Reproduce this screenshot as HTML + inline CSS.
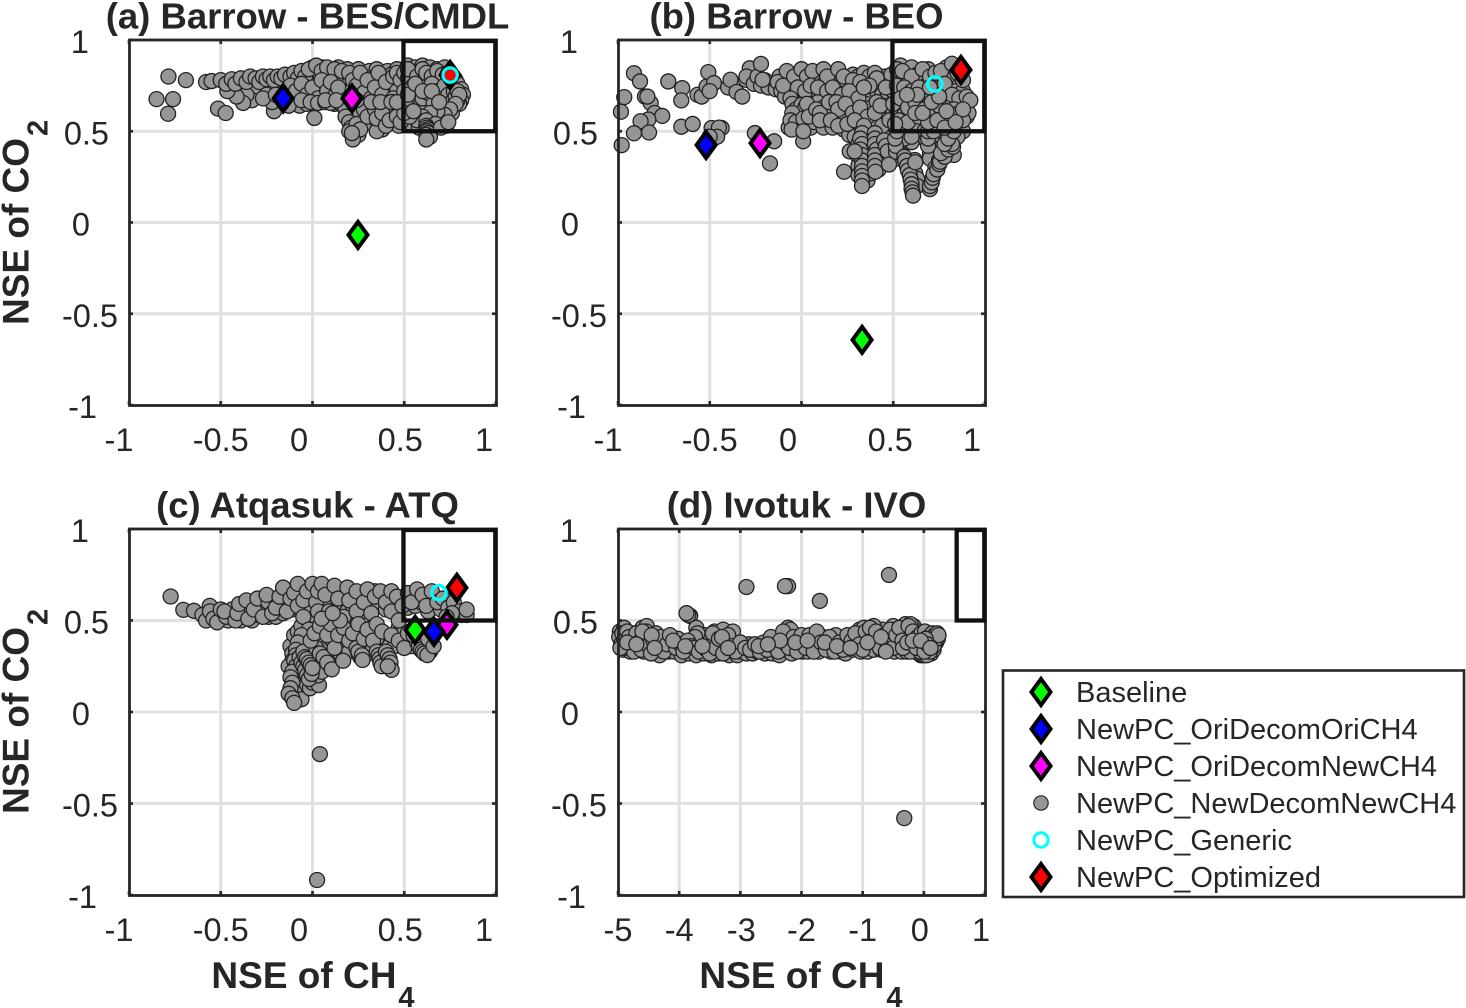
<!DOCTYPE html>
<html>
<head>
<meta charset="utf-8">
<title>NSE of CH4 vs NSE of CO2</title>
<style>
html,body{margin:0;padding:0;background:#fff;width:1466px;height:1008px;overflow:hidden}
svg{display:block}
text{font-family:"Liberation Sans",Arial,sans-serif;fill:#262626}
</style>
</head>
<body>
<svg id="chart" width="1466" height="1008" viewBox="0 0 1466 1008" xmlns="http://www.w3.org/2000/svg"></svg>
<script>
/* ---------- data ---------- */
const ticksUnit = [-1, -0.5, 0, 0.5, 1];
const ticksIvotukX = [-5, -4, -3, -2, -1, 0, 1];
const titles = ["(a) Barrow - BES/CMDL", "(b) Barrow - BEO", "(c) Atqasuk - ATQ", "(d) Ivotuk - IVO"];
const legendLabels = ["Baseline", "NewPC_OriDecomOriCH4", "NewPC_OriDecomNewCH4", "NewPC_NewDecomNewCH4", "NewPC_Generic", "NewPC_Optimized"];

const baselineSeries = [[0.248, -0.068], [0.33, -0.643], [0.559, 0.449], null];
const oriOriSeries = [[-0.16, 0.68], [-0.52, 0.425], [0.662, 0.438], null];
const oriNewSeries = [[0.215, 0.68], [-0.226, 0.435], [0.733, 0.477], null];
const genericSeries = [[0.75, 0.808], [0.727, 0.759], [0.689, 0.652], null];
const optimizedSeries = [[0.75, 0.808], [0.869, 0.836], [0.787, 0.679], null];
const targetBoxLowerX = [0.5, 0.5, 0.5, 0.55];

const cloudAUnder = [
[-0.44,0.75],[-0.4,0.745],[-0.37,0.76],[-0.33,0.75],[-0.3,0.76],[-0.27,0.755],[-0.24,0.76],[-0.21,0.755],[-0.18,0.76],[-0.16,0.74],[-0.14,0.77],[-0.12,0.72],[-0.26,0.72],[-0.23,0.72],[-0.3,0.73],[-0.17,0.71],[-0.15,0.68],[-0.11,0.68],[-0.18,0.665],[-0.33,0.67],[-0.36,0.7],
[0,0.85],[0.05,0.85],[0.09,0.84],[0.14,0.85],[0.19,0.84],[0.25,0.84],[0.31,0.83],[0.35,0.84],[0.41,0.83],[0.46,0.84],
[-0.07,0.8],[-0.03,0.81],[0.01,0.8],[0.06,0.81],[0.11,0.8],[0.15,0.81],[0.18,0.8],[0.22,0.81],[0.27,0.8],[0.31,0.79],[0.35,0.8],[0.39,0.79],[0.43,0.81],[0.47,0.8],
[-0.08,0.76],[-0.05,0.75],[-0.01,0.76],[0.03,0.76],[0.07,0.75],[0.11,0.74],[0.16,0.76],[0.2,0.76],[0.24,0.77],[0.27,0.75],[0.31,0.76],[0.35,0.77],[0.38,0.75],[0.42,0.76],[0.45,0.75],[0.49,0.76],
[-0.09,0.7],[-0.05,0.71],[-0.02,0.72],[0.02,0.71],[0.06,0.7],[0.09,0.7],[0.13,0.71],[0.17,0.7],[0.21,0.72],[0.25,0.71],[0.29,0.73],[0.33,0.71],[0.37,0.72],[0.41,0.71],[0.44,0.72],[0.48,0.71],
[-0.07,0.64],[-0.03,0.65],[0.01,0.68],[0.05,0.66],[0.09,0.67],[0.12,0.65],[0.16,0.68],[0.19,0.64],[0.23,0.66],[0.26,0.64],[0.3,0.66],[0.33,0.63],[0.36,0.67],[0.39,0.64],[0.42,0.62],[0.46,0.65],[0.49,0.63],
[0.21,0.6],[0.24,0.58],[0.27,0.57],[0.3,0.55],[0.32,0.58],[0.36,0.54],[0.38,0.57],[0.42,0.59],[0.44,0.55],[0.47,0.53],[0.5,0.56],[0.23,0.5],[0.25,0.48],[0.22,0.54],[0.38,0.51],[0.35,0.5],
[0.52,0.86],[0.56,0.85],[0.6,0.86],[0.64,0.85],[0.68,0.84],[0.72,0.85],[0.54,0.8],[0.59,0.81],[0.63,0.79],[0.67,0.78],[0.7,0.79],[0.74,0.77],[0.78,0.78],[0.51,0.77],[0.54,0.73],[0.58,0.76],[0.62,0.75],[0.66,0.74],[0.7,0.73],[0.73,0.73],[0.76,0.74],[0.79,0.76],[0.81,0.73],[0.82,0.7],[0.81,0.67],[0.8,0.65],[0.52,0.68],[0.56,0.66],[0.59,0.66],[0.63,0.67],[0.67,0.68],[0.7,0.64],[0.73,0.66],[0.76,0.68],[0.79,0.67],[0.52,0.62],[0.55,0.63],[0.59,0.6],[0.63,0.63],[0.66,0.61],[0.7,0.61],[0.73,0.62],[0.76,0.6],[0.54,0.54],[0.58,0.52],[0.66,0.57],[0.7,0.56],[0.73,0.53]
];
const cloudA = [
[-0.785,0.8],[-0.69,0.78],[-0.58,0.77],[-0.85,0.676],[-0.76,0.676],[-0.787,0.596],[-0.515,0.624],[-0.473,0.6],[-0.378,0.655],[-0.414,0.69],[-0.464,0.72],[-0.21,0.61],[0.01,0.573],
[-0.55,0.775],[-0.5,0.78],[-0.47,0.76],[-0.44,0.785],[-0.42,0.76],[-0.39,0.79],[-0.36,0.77],[-0.34,0.8],[-0.31,0.79],[-0.29,0.77],[-0.27,0.8],[-0.25,0.785],[-0.23,0.8],[-0.21,0.78],[-0.19,0.8],[-0.17,0.79],[-0.15,0.81],[-0.25,0.7],[-0.22,0.66],[-0.27,0.68],[-0.2,0.7],[-0.13,0.64],
[-0.12,0.8],[-0.1,0.82],[-0.08,0.79],[-0.06,0.83],[-0.04,0.8],[-0.02,0.84],[0.02,0.86],[0.05,0.83],[0.08,0.85],[0.12,0.84],[0.16,0.83],[0.2,0.82],[-0.12,0.75],[-0.09,0.72],[-0.06,0.76],[-0.03,0.7],[0,0.74],[0.03,0.68],[0.05,0.78],[0.08,0.72],[0.1,0.77],[0.12,0.69],[0.14,0.74],[-0.06,0.67],[-0.01,0.66],[0.03,0.655],[0.07,0.66],[0.1,0.655],[0.15,0.655],
[0.22,0.78],[0.24,0.75],[0.26,0.82],[0.28,0.71],[0.3,0.78],[0.32,0.68],[0.34,0.74],[0.36,0.82],[0.38,0.7],[0.4,0.77],[0.42,0.66],[0.44,0.8],[0.46,0.72],[0.46,0.82],[0.48,0.78],[0.44,0.68],[0.24,0.64],[0.26,0.6],[0.28,0.62],[0.18,0.62],[0.18,0.58],[0.2,0.55],[0.21,0.52],[0.2,0.5],[0.24,0.54],[0.26,0.51],[0.3,0.58],[0.34,0.62],[0.35,0.57],[0.38,0.6],[0.4,0.53],[0.42,0.56],[0.46,0.58],[0.48,0.55],[0.22,0.455],[0.215,0.49],
[0.5,0.82],[0.52,0.79],[0.52,0.84],[0.55,0.75],[0.57,0.8],[0.6,0.84],[0.62,0.82],[0.65,0.8],[0.68,0.83],[0.71,0.81],[0.74,0.82],[0.5,0.72],[0.53,0.66],[0.56,0.7],[0.58,0.63],[0.6,0.74],[0.6,0.68],[0.63,0.71],[0.65,0.76],[0.66,0.65],[0.68,0.72],[0.7,0.68],[0.72,0.75],[0.74,0.7],[0.76,0.66],[0.77,0.72],[0.78,0.69],[0.79,0.72],[0.8,0.7],[0.78,0.65],[0.75,0.62],[0.72,0.59],[0.68,0.61],[0.64,0.6],[0.6,0.58],[0.57,0.56],[0.53,0.58],[0.5,0.6],[0.55,0.61],[0.62,0.56],[0.67,0.54],[0.62,0.53],[0.625,0.52],[0.63,0.51],[0.625,0.5],[0.63,0.49],[0.62,0.48],[0.64,0.47],[0.62,0.455],[0.7,0.52],[0.74,0.55],
[0.07,0.67],[0.13,0.67],[0.24,0.67],[0.32,0.66],[0.37,0.66],[0.43,0.66],[0.46,0.66],[0.52,0.7],[0.56,0.76],[0.6,0.72],[0.65,0.72],[0.69,0.66]
];

const cloudBUnder = [
[-0.12,0.8],[-0.09,0.76],[-0.07,0.8],[-0.05,0.76],[-0.02,0.79],[0.01,0.76],[0.04,0.79],[0.07,0.77],[0.1,0.8],[0.13,0.77],[0.16,0.8],[0.19,0.78],[0.22,0.8],[0.25,0.76],[0.28,0.81],[0.31,0.8],[0.34,0.82],[0.37,0.8],[0.4,0.77],[0.43,0.8],[0.46,0.8],[0.49,0.81],
[-0.1,0.71],[-0.07,0.72],[-0.04,0.7],[-0.01,0.71],[0.02,0.68],[0.05,0.7],[0.08,0.71],[0.11,0.69],[0.14,0.68],[0.17,0.7],[0.2,0.71],[0.23,0.68],[0.26,0.7],[0.29,0.72],[0.32,0.7],[0.35,0.71],[0.38,0.69],[0.41,0.72],[0.44,0.7],[0.47,0.71],[0.5,0.72],
[-0.04,0.66],[-0.01,0.62],[0.03,0.61],[0.06,0.65],[0.09,0.66],[0.12,0.63],[0.15,0.62],[0.18,0.6],[0.21,0.64],[0.24,0.6],[0.27,0.65],[0.3,0.64],[0.33,0.6],[0.35,0.65],[0.38,0.63],[0.41,0.66],[0.44,0.61],[0.47,0.64],[0.5,0.6],
[-0.07,0.52],[-0.04,0.53],[-0.01,0.52],[0.02,0.55],[0.05,0.52],[0.07,0.55],[0.12,0.52],[0.14,0.58],[0.17,0.52],[0.19,0.56],[0.22,0.57],[0.23,0.51],[0.27,0.53],[0.3,0.52],[0.32,0.56],[0.36,0.51],[0.38,0.55],[0.41,0.53],[0.45,0.56],[0.47,0.51],[0.5,0.53],[0.26,0.48],[0.29,0.47],[0.35,0.47],[0.38,0.48],[0.42,0.49],[0.46,0.48],[0.49,0.47],[0.53,0.48],
[0.31,0.43],[0.34,0.43],[0.35,0.39],[0.35,0.35],[0.35,0.31],[0.35,0.27],[0.36,0.23],[0.31,0.36],[0.31,0.31],[0.31,0.26],[0.38,0.44],[0.38,0.4],[0.38,0.35],[0.38,0.3],[0.38,0.27],[0.42,0.42],[0.42,0.37],[0.42,0.33],[0.42,0.29],[0.44,0.38],[0.47,0.46],[0.48,0.36],[0.49,0.42],[0.5,0.38],[0.52,0.35],[0.54,0.41],[0.55,0.37],[0.57,0.34],[0.575,0.326],[0.59,0.3],[0.6,0.28],[0.618,0.342],[0.62,0.27],[0.63,0.24],[0.63,0.2],[0.47,0.326],[0.6,0.44],[0.56,0.46],
[0.54,0.86],[0.57,0.8],[0.6,0.85],[0.63,0.81],[0.66,0.79],[0.69,0.84],[0.72,0.79],[0.75,0.78],[0.79,0.85],[0.82,0.78],[0.85,0.74],[0.54,0.71],[0.57,0.78],[0.6,0.76],[0.63,0.77],[0.67,0.72],[0.69,0.76],[0.72,0.7],[0.77,0.72],[0.8,0.73],[0.84,0.72],[0.88,0.72],[0.9,0.64],[0.9,0.58],[0.52,0.61],[0.56,0.59],[0.6,0.62],[0.6,0.67],[0.65,0.65],[0.68,0.65],[0.73,0.62],[0.77,0.6],[0.81,0.66],[0.85,0.64],[0.55,0.52],[0.6,0.52],[0.64,0.53],[0.67,0.5],[0.72,0.53],[0.76,0.5],[0.8,0.55],[0.85,0.51],[0.88,0.5],[0.91,0.6],[0.72,0.46],[0.75,0.45],[0.79,0.47],[0.83,0.46],[0.85,0.47],[0.68,0.45],[0.7,0.42],[0.7,0.38],[0.7,0.35],[0.8,0.43],[0.78,0.4],[0.77,0.37],[0.75,0.34],[0.73,0.3],[0.81,0.39],[0.83,0.37]
];
const cloudB = [
[-0.913,0.818],[-0.88,0.773],[-0.966,0.687],[-0.984,0.607],[-0.853,0.69],[-0.822,0.655],[-0.84,0.69],[-0.8,0.6],[-0.759,0.584],[-0.835,0.564],[-0.877,0.555],[-0.831,0.493],[-0.913,0.489],[-0.98,0.424],[-0.726,0.773],[-0.65,0.736],[-0.655,0.669],[-0.655,0.525],[-0.593,0.54],[-0.508,0.824],[-0.567,0.7],[-0.544,0.69],[-0.517,0.745],[-0.477,0.764],[-0.5,0.72],[-0.49,0.518],[-0.435,0.518],[-0.45,0.52],[-0.46,0.47],[-0.5,0.47],[-0.254,0.49],[-0.149,0.445],[-0.172,0.324],
[-0.4,0.74],[-0.387,0.782],[-0.354,0.715],[-0.323,0.69],[-0.303,0.782],[-0.282,0.845],[-0.3,0.8],[-0.26,0.76],[-0.24,0.8],[-0.22,0.75],[-0.2,0.78],[-0.18,0.74],[-0.14,0.73],[-0.13,0.77],[-0.11,0.72],[-0.09,0.69],[-0.1,0.75],[-0.221,0.869],[-0.212,0.782],
[-0.08,0.83],[-0.04,0.8],[0,0.84],[0.03,0.8],[0.06,0.83],[0.12,0.84],[0.14,0.8],[0.2,0.84],[0.23,0.8],[0.28,0.78],[0.32,0.77],[0.4,0.82],[0.41,0.79],[0.37,0.75],[-0.02,0.74],[0.02,0.72],[0.05,0.75],[0.09,0.74],[0.14,0.72],[0.17,0.74],[0.22,0.7],[0.26,0.72],[0.31,0.68],[0.34,0.74],[0.46,0.74],[-0.06,0.68],[-0.05,0.65],[-0.03,0.62],[0,0.645],[0.02,0.63],[0.03,0.65],[-0.05,0.6],[-0.06,0.56],[-0.03,0.55],[0.01,0.57],[0.04,0.58],[0.08,0.62],[0.1,0.6],[0.15,0.66],[0.19,0.66],[0.2,0.62],[0.24,0.65],[0.28,0.6],[0.32,0.63],[0.36,0.58],[0.4,0.6],[0.43,0.64],[-0.054,0.509],[0.009,0.445],[0.01,0.5],[0.1,0.56],[0.16,0.56],[0.2,0.53],[0.25,0.54],[0.29,0.56],[0.34,0.53],[0.44,0.53],[0.48,0.56],
[0.33,0.49],[0.32,0.46],[0.33,0.43],[0.32,0.4],[0.33,0.37],[0.33,0.34],[0.33,0.31],[0.33,0.28],[0.33,0.255],[0.33,0.23],[0.33,0.2],[0.263,0.39],[0.29,0.39],[0.232,0.278],[0.4,0.49],[0.4,0.46],[0.4,0.43],[0.41,0.4],[0.4,0.37],[0.4,0.34],[0.4,0.31],[0.403,0.278],[0.45,0.45],[0.46,0.42],[0.47,0.39],[0.477,0.318],[0.515,0.388],[0.514,0.42],[0.51,0.46],[0.52,0.5],
[0.56,0.36],[0.565,0.34],[0.575,0.31],[0.58,0.285],[0.59,0.26],[0.595,0.235],[0.6,0.21],[0.6,0.185],[0.605,0.165],[0.608,0.147],[0.62,0.33],[0.7,0.183],[0.7,0.2],[0.71,0.22],[0.715,0.245],[0.72,0.265],[0.74,0.29],[0.75,0.32],[0.755,0.333],[0.78,0.36],[0.76,0.38],[0.8,0.4],[0.826,0.415],[0.82,0.43],[0.78,0.43],[0.69,0.42],[0.69,0.46],[0.69,0.5],[0.8,0.46],[0.83,0.5],[0.72,0.5],[0.6,0.47],
[0.52,0.84],[0.55,0.83],[0.6,0.8],[0.66,0.84],[0.7,0.8],[0.73,0.82],[0.76,0.83],[0.82,0.87],[0.85,0.82],[0.88,0.78],[0.52,0.75],[0.56,0.74],[0.6,0.72],[0.64,0.74],[0.66,0.68],[0.7,0.7],[0.74,0.72],[0.78,0.76],[0.82,0.7],[0.86,0.68],[0.9,0.69],[0.92,0.67],[0.5,0.65],[0.54,0.68],[0.58,0.63],[0.62,0.66],[0.67,0.62],[0.71,0.6],[0.75,0.64],[0.79,0.58],[0.83,0.62],[0.86,0.6],[0.88,0.56],[0.88,0.62],[0.53,0.56],[0.58,0.55],[0.64,0.58],[0.69,0.55],[0.74,0.56],[0.78,0.52],[0.84,0.55],[0.51,0.54],[0.62,0.6],[0.66,0.6],[0.71,0.66],[0.79,0.61],[0.75,0.69],[0.7,0.74],[0.63,0.7],[0.575,0.7]
];

const cloudCUnder = [
[-0.57,0.54],[-0.55,0.52],[-0.52,0.55],[-0.49,0.52],[-0.46,0.5],[-0.44,0.56],[-0.42,0.53],[-0.39,0.5],[-0.38,0.56],[-0.35,0.57],[-0.33,0.5],[-0.31,0.53],[-0.29,0.58],[-0.26,0.56],[-0.24,0.52],[-0.22,0.62],[-0.2,0.52],[-0.18,0.58],[-0.16,0.54],[-0.14,0.61],[-0.13,0.66],[-0.11,0.56],[-0.1,0.6],[-0.06,0.67],[-0.06,0.55],[-0.03,0.58],[-0.01,0.63],[0.01,0.67],[0.02,0.52],
[0.06,0.67],[0.05,0.58],[0.09,0.65],[0.1,0.6],[0.13,0.66],[0.12,0.56],[0.16,0.64],[0.16,0.58],[0.19,0.55],[0.22,0.65],[0.22,0.58],[0.26,0.63],[0.27,0.55],[0.3,0.63],[0.31,0.58],[0.34,0.66],[0.36,0.58],[0.38,0.63],[0.4,0.56],[0.42,0.62],[0.45,0.6],[0.47,0.55],[0.5,0.62],[0.52,0.57],[0.55,0.63],[0.56,0.58],[0.59,0.6],[0.62,0.62],[0.63,0.55],[0.66,0.6],[0.7,0.56],[0.78,0.56],[0.81,0.53],
[-0.12,0.36],[-0.11,0.32],[-0.11,0.28],[-0.13,0.25],[-0.1,0.42],[-0.08,0.44],[-0.06,0.47],[-0.04,0.42],[-0.04,0.38],[-0.03,0.35],[-0.01,0.44],[0,0.38],[0.02,0.4],[0.03,0.46],[0.06,0.44],[0.06,0.38],[0.08,0.35],[0.1,0.4],[0.11,0.44],[0.13,0.38],[0.14,0.33],[0.16,0.38],[0.19,0.43],[0.2,0.33],[0.21,0.47],[0.23,0.4],[0.26,0.44],[0.27,0.36],[0.3,0.4],[0.3,0.32],[0.32,0.46],[0.33,0.35],[0.36,0.41],[0.37,0.36],[0.4,0.4],[0.42,0.36],[0.45,0.36],[0.47,0.46],[0.48,0.4],[0.5,0.44],[0.52,0.38],[0.54,0.36],
[-0.08,0.22],[-0.07,0.18],[-0.06,0.15],[-0.05,0.12],[-0.08,0.1],[-0.06,0.07],[-0.03,0.15],[-0.014,0.13],[0,0.16],[0.02,0.18],[0.035,0.147],[0.03,0.2],[0.05,0.22],[-0.02,0.23],[-0.07,0.28],
[-0.055,0.3],[-0.05,0.29],[-0.045,0.28],[-0.04,0.27],[-0.035,0.26],[-0.03,0.25],[-0.025,0.24],[-0.02,0.23],[-0.015,0.22],[0.09,0.26],[0.08,0.28],[0.07,0.3],[0.25,0.32],[0.26,0.3],[0.27,0.29],[0.35,0.404],[0.38,0.28],[0.39,0.26],[0.42,0.26],[0.6,0.34],[0.6,0.36],[0.59,0.38],[0.58,0.4],[0.64,0.33],[0.65,0.35]
];
const cloudC = [
[-0.773,0.631],[-0.704,0.558],[-0.646,0.553],[-0.6,0.53],[-0.58,0.5],[-0.56,0.58],[-0.559,0.55],[-0.54,0.51],[-0.52,0.49],[-0.5,0.56],[-0.47,0.52],[-0.48,0.55],[-0.42,0.5],[-0.41,0.54],[-0.4,0.59],[-0.36,0.61],[-0.35,0.51],[-0.32,0.56],[-0.3,0.62],[-0.27,0.52],[-0.24,0.6],[-0.25,0.64],[-0.22,0.54],[-0.2,0.57],[-0.18,0.63],[-0.16,0.68],[-0.14,0.55],[-0.12,0.62],[-0.1,0.65],[-0.08,0.7],[-0.08,0.58],[-0.05,0.61],[-0.03,0.66],[0,0.7],[-0.05,0.52],[0.02,0.6],[0.03,0.55],[0.03,0.66],
[0.05,0.7],[0.07,0.64],[0.09,0.55],[0.12,0.69],[0.14,0.62],[0.17,0.52],[0.19,0.68],[0.2,0.61],[0.24,0.55],[0.24,0.66],[0.28,0.6],[0.3,0.67],[0.32,0.54],[0.34,0.63],[0.37,0.66],[0.4,0.6],[0.43,0.66],[0.43,0.55],[0.46,0.63],[0.49,0.58],[0.52,0.65],[0.54,0.6],[0.57,0.67],[0.6,0.64],[0.62,0.58],[0.65,0.66],[0.68,0.6],[0.71,0.62],[0.74,0.57],[0.77,0.6],[0.8,0.55],[0.84,0.53],[0.84,0.56],[0.76,0.54],[0.73,0.52],
[-0.02,0.45],[-0.06,0.42],[-0.08,0.38],[-0.09,0.34],[-0.09,0.31],[-0.1,0.28],[-0.09,0.25],[-0.11,0.22],[-0.12,0.19],[-0.11,0.16],[-0.12,0.13],[-0.13,0.1],[-0.11,0.075],[-0.1,0.05],
[-0.07,0.3],[-0.06,0.27],[-0.05,0.25],[-0.04,0.23],[-0.03,0.2],[-0.02,0.18],[-0.005,0.208],[-0.05,0.33],[-0.04,0.3],[-0.03,0.29],[-0.02,0.27],[-0.01,0.255],[0,0.24],[0.02,0.35],[0.04,0.32],[0.06,0.3],[0.08,0.27],[0.105,0.233],[0.167,0.28],[0.12,0.35],[-0.01,0.39],[0.01,0.43],[0.04,0.47],[0.08,0.42],[0.1,0.48],[0.14,0.42],[0.17,0.46],[0.2,0.39],[0.22,0.43],[0.24,0.35],[0.25,0.33],[0.27,0.31],[0.273,0.284],[0.25,0.48],[0.28,0.4],[0.3,0.45],[0.33,0.39],[0.35,0.48],[0.35,0.33],[0.36,0.31],[0.365,0.29],[0.37,0.27],[0.377,0.25],[0.4,0.33],[0.41,0.31],[0.42,0.29],[0.425,0.27],[0.431,0.23],[0.41,0.25],[0.38,0.44],[0.43,0.42],[0.47,0.39],[0.5,0.35],[0.52,0.43],[0.47,0.5],[0.15,0.5],[0.05,0.51],[0.11,0.54],
[0.57,0.38],[0.58,0.36],[0.59,0.34],[0.6,0.33],[0.61,0.32],[0.626,0.311],[0.55,0.42],[0.63,0.4],[0.66,0.36],
[0.04,-0.23],[0.025,-0.918]
];

const cloudDUnder = [
[-4.97,0.44],[-4.92,0.34],[-4.87,0.41],[-4.8,0.33],[-4.76,0.43],[-4.68,0.35],[-4.64,0.41],[-4.58,0.33],[-4.52,0.38],[-4.48,0.42],[-4.43,0.33],[-4.36,0.39],[-4.32,0.31],[-4.27,0.4],[-4.22,0.35],[-4.17,0.33],[-4.12,0.37],[-4.08,0.33],[-4.02,0.4],[-3.96,0.31],[-3.9,0.35],[-3.84,0.32],[-3.78,0.39],[-3.72,0.31],[-3.66,0.37],[-3.6,0.32],[-3.58,0.42],[-3.52,0.36],[-3.47,0.31],[-3.42,0.38],[-3.36,0.32],[-3.32,0.37],[-3.25,0.36],[-3.18,0.31],[-3.12,0.38],[-3.05,0.31],[-2.98,0.33],[-2.9,0.32],[-2.86,0.37],[-2.8,0.32],[-2.72,0.33],[-2.66,0.36],[-2.6,0.32],[-2.53,0.38],[-2.48,0.32],[-2.42,0.38],[-2.36,0.31],[-2.32,0.41],[-2.27,0.34],[-2.22,0.42],[-2.16,0.32],[-2.1,0.42],[-2.04,0.36],[-1.98,0.33],[-1.95,0.39],[-1.9,0.33],[-1.84,0.38],[-1.78,0.37],[-1.72,0.33],[-1.65,0.41],[-1.58,0.38],[-1.52,0.33],[-1.48,0.37],[-1.44,0.42],[-1.36,0.33],[-1.3,0.39],[-1.28,0.32],[-1.22,0.35],[-1.16,0.34],[-1.1,0.38],[-1.03,0.33],[-0.98,0.39],[-0.92,0.33],[-0.86,0.42],[-0.82,0.34],[-0.75,0.38],[-0.7,0.34],[-0.68,0.45],[-0.62,0.41],[-0.58,0.34],[-0.52,0.42],[-0.48,0.33],[-0.43,0.38],[-0.38,0.43],[-0.36,0.33],[-0.32,0.42],[-0.28,0.33],[-0.24,0.41],[-0.2,0.35],[-0.17,0.47],[-0.15,0.33],[-0.12,0.44],[-0.09,0.37],[-0.07,0.44],[-0.05,0.31],[-0.02,0.41],[0,0.35],[0.03,0.32],[0.04,0.42],[0.07,0.34],[0.12,0.32],[0.13,0.4],[0.16,0.34],[0.2,0.38],[0.23,0.4],[-0.02,0.31],[0.01,0.31],[0.05,0.31],
[-4.9,0.46],[-4.6,0.46],[-4.53,0.47],[-3.42,0.44],[-3.28,0.45],[-3.12,0.44],[-2.22,0.46],[-2.18,0.45],[-1.05,0.45],[-0.98,0.46],[-0.82,0.47],[-0.5,0.47],[-0.3,0.48],[-0.22,0.48]
];
const cloudD = [
[-2.9,0.683],[-2.25,0.688],[-2.22,0.688],[-2.27,0.688],[-1.7,0.607],[-0.57,0.749],[-0.32,-0.58],[-3.82,0.525],[-3.85,0.53],[-3.88,0.54],[-3.72,0.46],[-3.7,0.43],[-3.74,0.41],
[-4.98,0.41],[-4.95,0.37],[-4.93,0.43],[-4.9,0.39],[-4.88,0.35],[-4.85,0.44],[-4.82,0.41],[-4.78,0.36],[-4.74,0.33],[-4.7,0.43],[-4.66,0.38],[-4.62,0.34],[-4.57,0.4],[-4.54,0.44],[-4.5,0.36],[-4.46,0.32],[-4.42,0.39],[-4.38,0.43],[-4.34,0.35],[-4.3,0.41],[-4.25,0.33],[-4.2,0.37],[-4.15,0.42],[-4.05,0.35],[-3.98,0.37],[-3.93,0.33],[-3.86,0.39],[-3.8,0.36],[-3.75,0.35],[-3.68,0.33],
[-3.55,0.34],[-3.5,0.32],[-3.45,0.43],[-3.4,0.35],[-3.35,0.4],[-3.28,0.32],[-3.2,0.42],[-3.15,0.36],[-3.08,0.33],[-3,0.38],[-2.92,0.35],[-2.84,0.34],[-2.76,0.37],[-2.68,0.33],[-2.62,0.38],[-2.56,0.34],[-2.5,0.41],[-2.44,0.36],[-2.38,0.33],[-2.3,0.44],[-2.25,0.37],[-2.2,0.35],[-2.13,0.41],[-2.07,0.33],[-2,0.42],[-1.93,0.35],[-1.87,0.42],[-1.8,0.33],[-1.75,0.44],[-1.68,0.38],[-1.6,0.34],[-1.54,0.41],[-1.46,0.33],[-1.38,0.38],[-1.32,0.34],[-1.25,0.42],[-1.18,0.39],[-1.12,0.43],[-1.05,0.37],[-1,0.34],[-0.95,0.44],[-0.88,0.46],[-0.84,0.39],[-0.78,0.44],[-0.72,0.35],[-0.65,0.42],[-0.6,0.38],[-0.55,0.45],[-0.5,0.35],[-0.45,0.42],[-0.4,0.46],[-0.35,0.39],[-0.3,0.36],[-0.25,0.47],[-0.22,0.33],[-0.18,0.44],[-0.14,0.38],[-0.1,0.41],[-0.06,0.33],[-0.04,0.43],[-0.01,0.37],[0.02,0.44],[0.05,0.34],[0.08,0.41],[0.1,0.33],[0.12,0.38],[0.14,0.43],[0.16,0.36],[0.18,0.42],[0.2,0.4],[0.22,0.43],[0.24,0.42],
[-4.96,0.35],[-4.6,0.44],[-4.45,0.42],[-4.1,0.39],[-3.62,0.36],[-3.3,0.41],[-2.7,0.36],[-2.35,0.39],[-1.62,0.38],[-1.42,0.36],[-0.92,0.38],[-0.62,0.33],[-0.34,0.35],[-0.27,0.38],[0.03,0.4],[0.09,0.36],[-4.85,0.38],[-4.4,0.35],[-3.2,0.35],[-2.55,0.37],[-2.1,0.38],[-1.2,0.35],[-0.7,0.41],[-0.12,0.35],[-0.18,0.39],[0.01,0.33],[0.06,0.37],[-1.9,0.39],[-3.9,0.36],[-4.7,0.37],[-0.05,0.39],[0.11,0.35]
];

const cloudSeries = [cloudAUnder.concat(cloudA), cloudBUnder.concat(cloudB), cloudCUnder.concat(cloudC), cloudDUnder.concat(cloudD)];

/* ---------- layout ---------- */
const panels = [
  {key:'a', left:129, right:496, top:40,  bottom:405, xMin:-1, xMax:1, xTicks:ticksUnit, xNudge:[-10,0,-13.5,-4,-12], yLabelBase:0, xLabelY:451, xTitleX:313},
  {key:'b', left:618, right:985, top:40,  bottom:405, xMin:-1, xMax:1, xTicks:ticksUnit, xNudge:[-10,0,-13.5,-3,-13], yLabelBase:489, xLabelY:451, xTitleX:801},
  {key:'c', left:129, right:496, top:529, bottom:895, xMin:-1, xMax:1, xTicks:ticksUnit, xNudge:[-10,0,-13.5,-4,-12], yLabelBase:0, xLabelY:941, xTitleX:313},
  {key:'d', left:618, right:985, top:529, bottom:895, xMin:-5, xMax:1, xTicks:ticksIvotukX, xNudge:[0,0,1,0,0,-4,-4], yLabelBase:489, xLabelY:941, xTitleX:801}
];
const yLabelRight = [89, 109, 90, 118, 97];
const NS = 'http://www.w3.org/2000/svg';
const svg = document.getElementById('chart');

function mk(tag, attrs, parent) {
  const el = document.createElementNS(NS, tag);
  for (const k in attrs) el.setAttribute(k, attrs[k]);
  (parent || svg).appendChild(el);
  return el;
}
function xScale(p, v) { return p.left + (v - p.xMin) / (p.xMax - p.xMin) * (p.right - p.left); }
function yScale(p, v) { return p.bottom - (v + 1) / 2 * (p.bottom - p.top); }

function diamond(cx, cy, fill, parent, nameStr) {
  const d = `M${cx} ${cy-13}L${cx+9.5} ${cy}L${cx} ${cy+13}L${cx-9.5} ${cy}Z`;
  const el = mk('path', {d:d, fill:fill, stroke:'#000', 'stroke-width':4, 'stroke-linejoin':'miter', 'stroke-miterlimit':6}, parent);
  
  
  return el;
}

panels.forEach(function (p, i) {
  const g = mk('g', {});
  
  

  /* grid */
  p.xTicks.forEach(function (t) {
    if (t === p.xMin || t === p.xMax) return;
    const x = xScale(p, t);
    const l = mk('line', {x1:x, x2:x, y1:p.top, y2:p.bottom, stroke:'#e0e0e0', 'stroke-width':3}, g);
    
    
  });
  ticksUnit.forEach(function (t) {
    if (t === -1 || t === 1) return;
    const y = yScale(p, t);
    const l = mk('line', {x1:p.left, x2:p.right, y1:y, y2:y, stroke:'#e0e0e0', 'stroke-width':3}, g);
    
    
  });

  /* cloud */
  const cloudG = mk('g', {}, g);
  
  
  cloudSeries[i].forEach(function (pt) {
    const c = mk('circle', {cx:xScale(p, pt[0]), cy:yScale(p, pt[1]), r:7.5, fill:'#969696', stroke:'#222', 'stroke-width':1.3}, cloudG);
    
    
  });

  /* highlighted runs */
  if (baselineSeries[i]) diamond(xScale(p, baselineSeries[i][0]), yScale(p, baselineSeries[i][1]), '#00ff00', g, 'baseline-marker');
  if (oriNewSeries[i]) diamond(xScale(p, oriNewSeries[i][0]), yScale(p, oriNewSeries[i][1]), '#ff00ff', g, 'oridecom-newch4-marker');
  if (oriOriSeries[i]) diamond(xScale(p, oriOriSeries[i][0]), yScale(p, oriOriSeries[i][1]), '#0000ff', g, 'oridecom-orich4-marker');
  if (optimizedSeries[i]) diamond(xScale(p, optimizedSeries[i][0]), yScale(p, optimizedSeries[i][1]), '#ff0000', g, 'optimized-marker');
  if (genericSeries[i]) {
    const c = mk('circle', {cx:xScale(p, genericSeries[i][0]), cy:yScale(p, genericSeries[i][1]), r:7.2, fill:'none', stroke:'#00ffff', 'stroke-width':3.2}, g);
    
    
  }

  /* axes box */
  const frame = mk('rect', {x:p.left+0.5, y:p.top, width:p.right-p.left, height:p.bottom-p.top+0.5, fill:'none', stroke:'#262626', 'stroke-width':2.8}, g);
  
  

  /* ticks */
  p.xTicks.forEach(function (t, j) {
    const x = xScale(p, t);
    const tk = mk('line', {x1:x, x2:x, y1:p.bottom, y2:p.bottom-4, stroke:'#262626', 'stroke-width':2.6}, g);
    
    
    const tk2 = mk('line', {x1:x, x2:x, y1:p.top, y2:p.top+4, stroke:'#262626', 'stroke-width':2.6}, g);
    
    
    const tx = mk('text', {x:x + p.xNudge[j], y:p.xLabelY, 'text-anchor':'middle', 'font-size':32.5}, g);
    
    
    tx.textContent = String(t);
  });
  ticksUnit.forEach(function (t, j) {
    const y = yScale(p, t);
    const tk = mk('line', {x1:p.left, x2:p.left+4, y1:y, y2:y, stroke:'#262626', 'stroke-width':2.6}, g);
    
    
    const tk2 = mk('line', {x1:p.right, x2:p.right-4, y1:y, y2:y, stroke:'#262626', 'stroke-width':2.6}, g);
    
    
    const tx = mk('text', {x:yLabelRight[4-j] + p.yLabelBase, y:y + 13, 'text-anchor':'end', 'font-size':32.5}, g);
    
    
    tx.textContent = String(t);
  });

  /* target box */
  const bx = xScale(p, targetBoxLowerX[i]) - 0.8, by = yScale(p, 1) + 1;
  const box = mk('rect', {x:bx, y:by, width:xScale(p, 1)-0.7-bx, height:yScale(p, 0.5)-by, fill:'none', stroke:'#111', 'stroke-width':4.3}, g);
  
  

  /* title */
  const ttl = mk('text', {x:(p.left+p.right)/2 - 5, y:p.top - 11.5, 'text-anchor':'middle', 'font-size':36.5, 'font-weight':'bold'}, g);
  
  
  ttl.textContent = titles[i];

  /* y label */
  if (p.key === 'a' || p.key === 'c') {
    const yl = mk('text', {transform:'translate(28.5 ' + (p.top + 285) + ') rotate(-90)', 'font-size':37, 'font-weight':'bold'}, g);
    
    
    yl.appendChild(document.createTextNode('NSE of CO'));
    const sub = mk('tspan', {dx:2, dy:19, 'font-size':29}, yl);
    sub.textContent = '2';
  }
  /* x label */
  if (p.key === 'c' || p.key === 'd') {
    const xl = mk('text', {x:p.xTitleX, y:988, 'text-anchor':'middle', 'font-size':37, 'font-weight':'bold'}, g);
    
    
    xl.appendChild(document.createTextNode('NSE of CH'));
    const sub = mk('tspan', {dx:2, dy:19, 'font-size':29}, xl);
    sub.textContent = '4';
  }
});

/* legend */
const lg = mk('g', {});


const lgBox = mk('rect', {x:1003, y:670.5, width:461, height:226.5, fill:'#fff', stroke:'#262626', 'stroke-width':2.6}, lg);


const legendFills = ['#00ff00', '#0000ff', '#ff00ff', null, null, '#ff0000'];
legendLabels.forEach(function (label, k) {
  const y = 692 + k * 37;
  if (k === 3) {
    const c = mk('circle', {cx:1041, cy:y, r:7.2, fill:'#969696', stroke:'#262626', 'stroke-width':1.2}, lg);
    
    
  } else if (k === 4) {
    const c = mk('circle', {cx:1041, cy:y, r:7.2, fill:'none', stroke:'#00ffff', 'stroke-width':3}, lg);
    
    
  } else {
    diamond(1041, y, legendFills[k], lg, 'legend-diamond-swatch');
  }
  const t = mk('text', {x:1076, y:y + 10, 'font-size':29}, lg);
  
  
  t.textContent = label;
});
</script>
</body>
</html>
